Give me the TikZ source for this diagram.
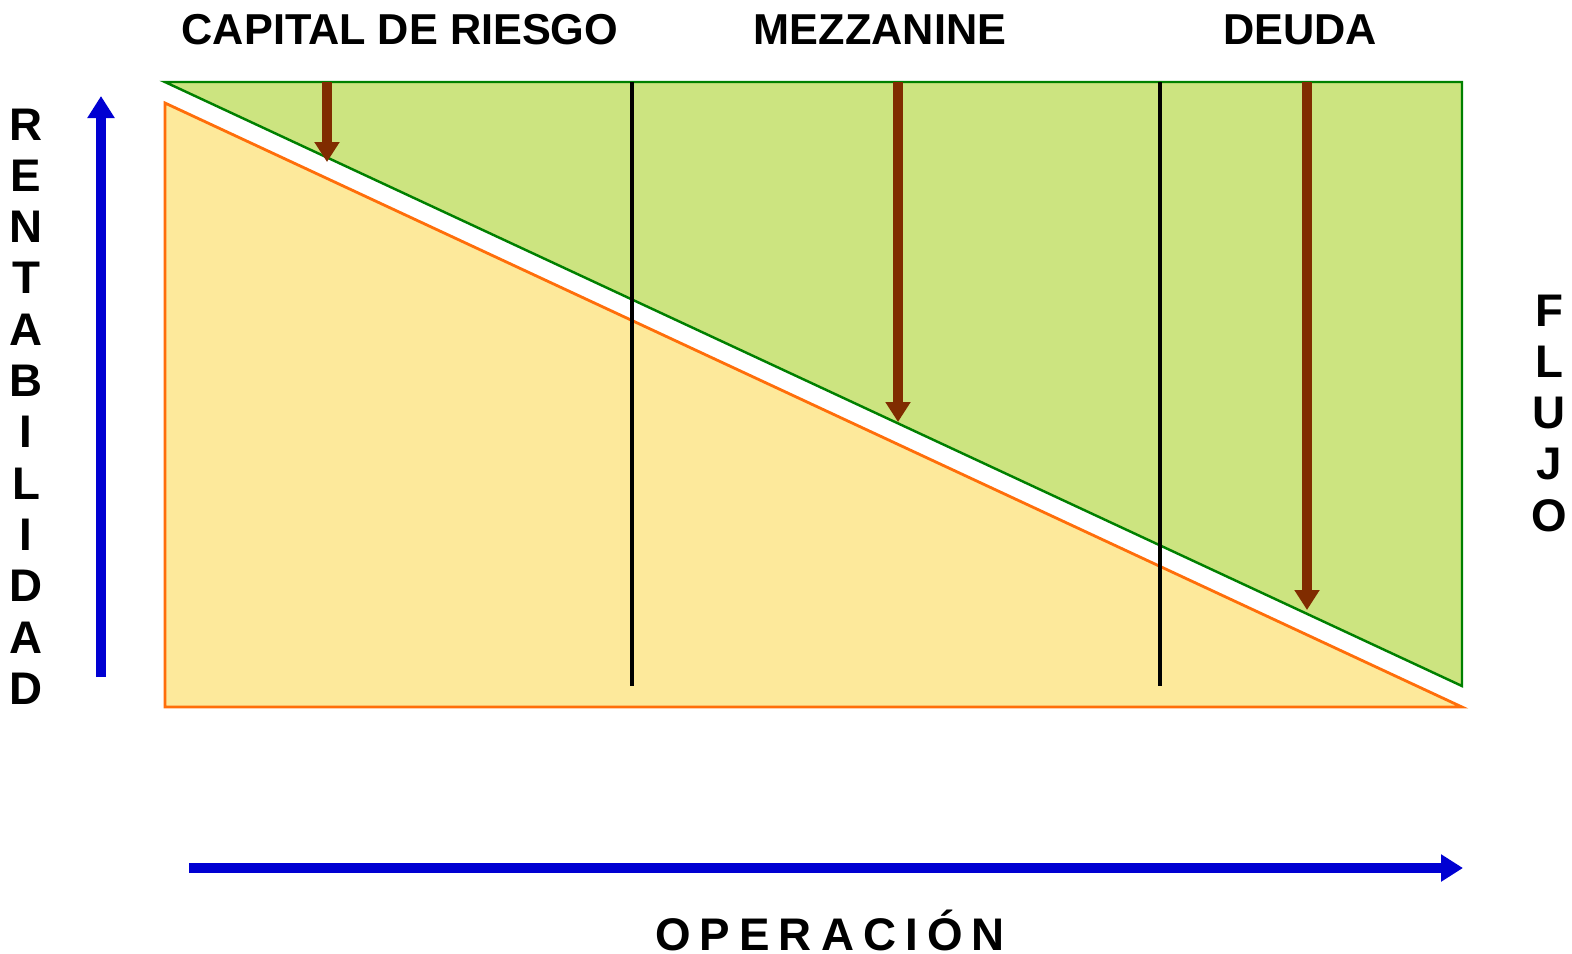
\documentclass[tikz,border=0pt]{standalone}
\usepackage{fontspec}
\setmainfont{Liberation Sans}
\usetikzlibrary{arrows.meta}
\definecolor{verde}{RGB}{204,228,128}
\definecolor{verdeosc}{RGB}{0,128,0}
\definecolor{amarillo}{RGB}{253,233,155}
\definecolor{naranja}{RGB}{255,110,10}
\definecolor{cafe}{RGB}{128,44,0}
\definecolor{azul}{RGB}{0,0,210}
\tikzset{
    rotulo/.style={font=\fontsize{13}{15}\selectfont\bfseries, anchor=base, inner sep=0pt},
    titulo/.style={font=\fontsize{12.3}{15}\selectfont\bfseries, anchor=base, inner sep=0pt},
    bajada/.style={draw=cafe, line width=2.9pt, -{Triangle[width=0.24cm,length=0.2cm]}},
    eje/.style={draw=azul, line width=3.1pt, -{Triangle[width=0.26cm,length=0.22cm]}},
    divisor/.style={draw=black, line width=1.2pt}
}
\begin{document}
\begin{tikzpicture}[x=0.01cm,y=-0.01cm]
\useasboundingbox (0,0) rectangle (1572,953);
% zonas
\coordinate (g1) at (165,82);
\coordinate (g2) at (1462,82);
\coordinate (g3) at (1462,686);
\coordinate (a1) at (165,103);
\coordinate (a2) at (165,707);
\coordinate (a3) at (1462,707);
\fill[verde] (g1) -- (g2) -- (g3) -- cycle;
\draw[verdeosc, line width=0.7pt] (g1) -- (g2) -- (g3) -- cycle;
\fill[amarillo] (a1) -- (a2) -- (a3) -- cycle;
\draw[naranja, line width=0.8pt] (a1) -- (a2) -- (a3) -- cycle;
% divisiones
\foreach \x/\p in {632/d1, 1160/d2}{
    \coordinate (\p a) at (\x,82);
    \coordinate (\p b) at (\x,686);
    \draw[divisor] (\p a) -- (\p b);
}
% flechas de riesgo
\foreach \x/\y/\p in {327/162/f1, 898/422/f2, 1307/610/f3}{
    \coordinate (\p a) at (\x,82);
    \coordinate (\p b) at (\x,\y);
    \draw[bajada] (\p a) -- (\p b);
}
% ejes
\coordinate (ra) at (101,677);
\coordinate (rb) at (101,96);
\draw[eje] (ra) -- (rb);
\coordinate (oa) at (189,868);
\coordinate (ob) at (1463,868);
\draw[eje] (oa) -- (ob);
% titulos
\foreach \x/\p/\t in {400/t1/{CAPITAL DE RIESGO}, 880/t2/{MEZZANINE}, 1300/t3/{DEUDA}}{
    \node (\p) at (\x,44)[titulo] {\t};
}
\foreach \l [count=\i] in {R,E,N,T,A,B,I,L,I,D,A,D}{
    \node (r\i) at (26,{140+51.3*(\i-1)})[rotulo] {\l};
}
\foreach \l [count=\i] in {F,L,U,J,O}{
    \node (f\i) at (1549,{326+51.25*(\i-1)})[rotulo] {\l};
}
\node (op) at (830,950)[rotulo] {\spaceskip=2.6pt O P E R A C I Ó N};
\end{tikzpicture}
\end{document}
